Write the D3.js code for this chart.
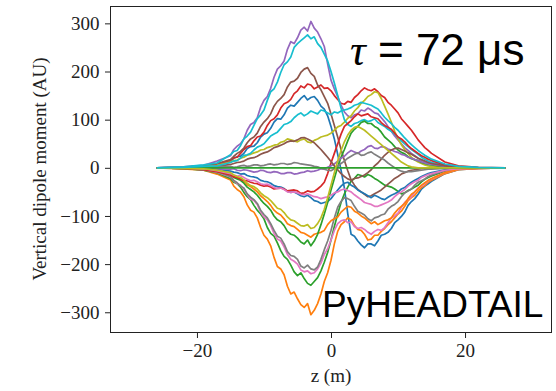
<!DOCTYPE html>
<html>
<head>
<meta charset="utf-8">
<script src="https://cdn.jsdelivr.net/npm/d3@7"></script>
<style>
  body { margin: 0; background: #fff; }
  svg { display: block; }
  .tick text { font-family: "Liberation Serif", "DejaVu Serif", serif; font-size: 19px; fill: #222; }
  .tick line { stroke: #222; }
</style>
</head>
<body>
<svg id="chart" width="556" height="391"></svg>
<script>
const zGrid = [-26, -22, -19, -17,
  -15, -14.5, -14, -13.5, -13, -12.5, -12, -11.5, -11, -10.5,
  -10, -9.5, -9, -8.5, -8, -7.5, -7, -6.5, -6, -5.5,
  -5, -4.5, -4, -3.5, -3, -2.5, -2, -1.5, -1, -0.5,
  0, 0.5, 1, 1.5, 2, 2.5, 3, 3.5, 4, 4.5,
  5, 5.5, 6, 6.5, 7, 7.5, 8, 8.5, 9, 9.5,
  10, 10.5, 11, 11.5, 12, 12.5, 13, 13.5, 14, 14.5,
  15, 17, 19, 22, 26];

// one snapshot per array (AU)
const blueA = [0, 1, 3, 7,
  13, 20, 23, 24, 30, 40, 44, 45, 52, 64,
  70, 73, 82, 95, 102, 101, 110, 124, 130, 128,
  136, 144, 150, 141, 146, 148, 140, 128, 122, 108,
  86, 60, 28, -5, -42, -95, -138, -142, -152, -160,
  -166, -158, -158, -162, -152, -140, -138, -134, -126, -114,
  -108, -101, -92, -78, -70, -64, -55, -44, -38, -33,
  -28, -12, -4, -1, 0];
const orangeA = [0, -2, -5, -13,
  -25, -38, -45, -50, -60, -77, -88, -92, -104, -124,
  -140, -148, -162, -186, -205, -210, -222, -246, -262, -258,
  -272, -284, -290, -282, -305, -296, -282, -262, -236, -218,
  -192, -158, -132, -118, -112, -104, -108, -120, -128, -130,
  -138, -150, -148, -140, -140, -132, -126, -118, -112, -104,
  -96, -90, -80, -68, -62, -57, -48, -41, -37, -30,
  -26, -12, -4, -1, 0];
const greenC = [0, -1, -5, -10,
  -22, -30, -33, -40, -51, -60, -66, -78, -88, -96,
  -106, -124, -136, -142, -156, -172, -184, -190, -202, -216,
  -224, -218, -230, -240, -244, -236, -228, -214, -196, -176,
  -150, -122, -96, -72, -54, -40, -28, -22, -14, -16,
  -19, -14, -17, -22, -26, -31, -36, -38, -40, -44,
  -49, -54, -52, -47, -44, -40, -36, -29, -24, -20,
  -17, -7, -2, 0, 0];
const redA = [0, 1, 4, 6,
  16, 21, 22, 30, 38, 44, 46, 56, 64, 66,
  74, 88, 98, 102, 110, 124, 133, 136, 142, 154,
  160, 170, 166, 174, 172, 164, 168, 172, 165, 166,
  160, 150, 142, 134, 132, 138, 136, 146, 152, 160,
  166, 162, 160, 164, 158, 150, 146, 136, 130, 122,
  114, 102, 94, 86, 78, 68, 58, 50, 42, 36,
  30, 12, 4, 1, 0];
const purpleA = [0, 2, 5, 14,
  25, 38, 45, 50, 60, 78, 90, 94, 104, 126,
  140, 148, 165, 188, 205, 212, 222, 246, 262, 258,
  270, 286, 292, 284, 304, 290, 282, 268, 252, 216,
  182, 164, 148, 130, 116, 108, 104, 110, 112, 120,
  118, 124, 120, 114, 112, 104, 96, 86, 76, 66,
  58, 50, 42, 36, 30, 25, 20, 15, 12, 9,
  7, 3, 1, 0, 0];
const brownA = [0, 1, 4, 9,
  17, 24, 30, 34, 41, 52, 60, 64, 72, 86,
  95, 102, 112, 128, 138, 144, 152, 168, 178, 180,
  186, 198, 205, 208, 196, 190, 172, 162, 148, 134,
  112, 88, 64, 38, 15, -6, -25, -36, -45, -50,
  -55, -60, -58, -54, -50, -46, -40, -34, -28, -22,
  -18, -13, -10, -7, -5, -4, -3, -2, -1, -1,
  0, 0, 0, 0, 0];
const pinkA = [0, -1, -4, -9,
  -19, -27, -33, -36, -44, -56, -65, -68, -76, -92,
  -102, -108, -120, -136, -148, -152, -164, -180, -190, -194,
  -200, -212, -216, -214, -220, -218, -210, -198, -180, -168,
  -150, -130, -116, -110, -108, -114, -112, -122, -126, -124,
  -128, -134, -138, -132, -128, -130, -124, -114, -104, -100,
  -94, -82, -72, -66, -60, -50, -42, -38, -33, -27,
  -23, -10, -3, -1, 0];
const grayA = [0, -1, -4, -8,
  -18, -26, -31, -38, -42, -54, -61, -66, -74, -88,
  -97, -104, -116, -130, -142, -146, -158, -174, -182, -184,
  -190, -204, -208, -202, -210, -212, -206, -190, -170, -152,
  -130, -104, -82, -70, -62, -64, -68, -80, -90, -94,
  -98, -106, -110, -104, -102, -98, -96, -86, -80, -76,
  -70, -60, -52, -48, -44, -36, -30, -27, -23, -18,
  -15, -6, -2, 0, 0];
const oliveA = [0, 0, 2, 5,
  12, 15, 16, 20, 22, 26, 28, 31, 33, 37,
  38, 42, 44, 47, 48, 53, 55, 60, 58, 56,
  54, 58, 60, 54, 52, 57, 60, 64, 66, 68,
  72, 78, 85, 88, 95, 103, 108, 118, 125, 134,
  140, 148, 152, 158, 156, 144, 128, 112, 95, 76,
  60, 48, 38, 30, 22, 16, 12, 9, 6, 4,
  3, 1, 0, 0, 0];
const cyanA = [0, 2, 6, 10,
  27, 34, 36, 46, 60, 66, 74, 88, 102, 110,
  120, 140, 158, 164, 178, 198, 214, 220, 230, 250,
  258, 264, 270, 276, 268, 272, 258, 250, 236, 222,
  200, 176, 150, 124, 100, 90, 86, 92, 94, 98,
  100, 96, 98, 102, 94, 90, 86, 80, 76, 70,
  64, 56, 50, 44, 38, 33, 28, 22, 18, 14,
  11, 5, 2, 0, 0];
const blueB = [0, 0, -1, -3,
  -7, -9, -10, -13, -12, -16, -18, -19, -21, -26,
  -28, -29, -32, -37, -39, -40, -43, -49, -51, -50,
  -54, -58, -60, -57, -62, -68, -70, -74, -72, -70,
  -64, -55, -46, -38, -32, -30, -36, -40, -46, -50,
  -54, -58, -62, -57, -60, -64, -66, -61, -57, -54,
  -50, -44, -41, -35, -30, -26, -22, -18, -15, -12,
  -10, -4, -1, 0, 0];
const orangeB = [0, -1, -3, -6,
  -13, -18, -20, -23, -28, -35, -39, -44, -50, -58,
  -64, -70, -78, -88, -94, -98, -106, -116, -120, -122,
  -128, -134, -136, -140, -144, -138, -136, -134, -130, -118,
  -110, -106, -102, -92, -86, -80, -82, -90, -94, -100,
  -104, -110, -116, -112, -118, -114, -110, -108, -104, -94,
  -86, -80, -74, -64, -55, -50, -43, -36, -31, -26,
  -22, -10, -3, -1, 0];
const greenB = [0, -1, -3, -7,
  -14, -20, -23, -26, -32, -40, -45, -50, -57, -66,
  -74, -80, -88, -100, -108, -112, -120, -132, -138, -140,
  -146, -154, -158, -150, -162, -152, -138, -118, -96, -72,
  -46, -22, 2, 22, 38, 56, 72, 80, 86, 94,
  97, 92, 92, 86, 82, 74, 64, 58, 52, 44,
  37, 32, 29, 23, 19, 17, 15, 11, 9, 7,
  6, 2, 1, 0, 0];
const redB = [0, -1, -4, -8,
  -15, -19, -20, -24, -26, -27, -30, -32, -33, -36,
  -38, -37, -40, -44, -43, -42, -44, -48, -47, -46,
  -48, -53, -52, -48, -50, -49, -44, -38, -30, -12,
  10, 30, 50, 70, 86, 92, 98, 106, 112, 108,
  110, 112, 106, 104, 102, 94, 88, 84, 80, 72,
  64, 60, 54, 46, 40, 35, 30, 25, 22, 18,
  15, 6, 2, 0, 0];
const purpleB = [0, 0, -1, -2,
  -3, -2, -5, -6, -4, -5, -7, -9, -8, -5,
  -6, -9, -10, -8, -9, -12, -12, -10, -10, -13,
  -12, -10, -9, -6, -8, -7, -5, -2, -2, 1,
  4, 8, 14, 20, 24, 31, 36, 33, 30, 35,
  38, 44, 46, 41, 40, 44, 43, 39, 37, 34,
  32, 28, 26, 22, 20, 17, 15, 12, 10, 8,
  7, 3, 1, 0, 0];
const brownB = [0, 0, 1, 3,
  7, 9, 11, 12, 14, 18, 20, 21, 24, 28,
  31, 33, 37, 42, 44, 47, 50, 54, 56, 55,
  58, 62, 63, 60, 56, 52, 45, 38, 30, 22,
  13, 4, -4, -12, -18, -23, -26, -22, -21, -18,
  -15, -10, -4, 4, 10, 18, 26, 32, 37, 40,
  41, 38, 35, 31, 28, 24, 20, 17, 14, 11,
  9, 4, 1, 0, 0];
const pinkB = [0, 0, -2, -6,
  -12, -15, -17, -16, -20, -24, -27, -26, -29, -33,
  -35, -34, -37, -41, -43, -42, -45, -50, -51, -50,
  -52, -55, -56, -54, -57, -60, -61, -64, -62, -60,
  -57, -52, -50, -46, -44, -47, -50, -56, -61, -66,
  -72, -74, -76, -80, -80, -77, -74, -71, -67, -60,
  -54, -50, -45, -38, -33, -29, -26, -20, -17, -14,
  -12, -5, -2, 0, 0];
const grayB = [0, 0, 1, 2,
  3, 1, 2, 4, 5, 3, 4, 6, 6, 4,
  5, 7, 8, 6, 7, 9, 9, 7, 8, 11,
  10, 8, 7, 6, 5, 3, 2, -1, -3, -5,
  -6, -2, 4, 9, 14, 20, 24, 28, 31, 26,
  27, 31, 33, 28, 24, 20, 16, 10, 5, 0,
  -4, -7, -9, -8, -8, -7, -6, -5, -4, -3,
  -3, -1, 0, 0, 0];
const zeroLine = [0, 0, 0, 0,
  0, 0, 0, 0, 0, 0, 0, 0, 0, 0,
  0, 0, 0, 0, 0, 0, 0, 0, 0, 0,
  0, 0, 0, 0, 0, 0, 0, 0, 0, 0,
  0, 0, 0, 0, 0, 0, 0, 0, 0, 0,
  0, 0, 0, 0, 0, 0, 0, 0, 0, 0,
  0, 0, 0, 0, 0, 0, 0, 0, 0, 0,
  0, 0, 0, 0, 0];
const oliveB = [0, -1, -2, -5,
  -10, -15, -18, -20, -25, -32, -37, -39, -44, -52,
  -58, -62, -68, -76, -84, -86, -93, -102, -108, -110,
  -115, -120, -121, -118, -126, -124, -116, -104, -86, -62,
  -36, -10, 14, 36, 54, 68, 78, 84, 86, 82,
  78, 72, 66, 60, 54, 48, 42, 36, 30, 24,
  18, 12, 8, 4, 2, 1, 0, 0, 0, 0,
  0, 0, 0, 0, 0];
const cyanB = [0, 1, 3, 4,
  11, 14, 15, 20, 26, 27, 30, 37, 43, 46,
  50, 58, 66, 70, 74, 82, 90, 92, 96, 104,
  110, 114, 108, 112, 118, 115, 112, 120, 118, 114,
  110, 116, 114, 118, 120, 122, 125, 130, 132, 136,
  134, 132, 130, 126, 122, 114, 105, 98, 92, 84,
  78, 70, 62, 55, 48, 42, 36, 31, 26, 22,
  18, 8, 3, 1, 0];

const xTicks = [-20, 0, 20];
const yTicks = [-300, -200, -100, 0, 100, 200, 300];

// matplotlib tab10
const tab = {
  blue: "#1f77b4", orange: "#ff7f0e", green: "#2ca02c", red: "#d62728", purple: "#9467bd",
  brown: "#8c564b", pink: "#e377c2", gray: "#7f7f7f", olive: "#bcbd22", cyan: "#17becf"
};

const lines = [
  [blueA, tab.blue], [orangeA, tab.orange], [greenC, tab.green], [redA, tab.red],
  [purpleA, tab.purple], [brownA, tab.brown], [pinkA, tab.pink], [grayA, tab.gray],
  [oliveA, tab.olive], [cyanA, tab.cyan], [blueB, tab.blue], [orangeB, tab.orange],
  [greenB, tab.green], [redB, tab.red], [purpleB, tab.purple], [brownB, tab.brown],
  [pinkB, tab.pink], [grayB, tab.gray], [zeroLine, tab.green], [oliveB, tab.olive],
  [cyanB, tab.cyan]
];

const svg = d3.select("#chart");
const plotL = 110.5, plotR = 551.5, plotT = 6.5, plotB = 332.5;

const x = d3.scaleLinear().domain([-32.9, 32.9]).range([plotL, plotR]);
const y = d3.scaleLinear().domain([-342, 335]).range([plotB, plotT]);

const minus = d => (d < 0 ? "\u2212" + Math.abs(d) : "" + d);

svg.append("defs").append("clipPath").attr("id", "plot")
  .append("rect").attr("x", plotL).attr("y", plotT)
  .attr("width", plotR - plotL).attr("height", plotB - plotT);

const line = d3.line()
  .defined((d, i) => i < zGrid.length)
  .x((d, i) => x(zGrid[i]))
  .y(d => y(d));

svg.append("g")
  .attr("clip-path", "url(#plot)")
  .selectAll("path")
  .data(lines)
  .enter()
  .append("path")
  .attr("d", d => line(d[0]))
  .attr("fill", "none")
  .attr("stroke", d => d[1])
  .attr("stroke-width", 1.7)
  .attr("stroke-linejoin", "round");

// axes
svg.append("g")
  .attr("transform", `translate(0,${plotB})`)
  .call(d3.axisBottom(x).tickValues(xTicks).tickSize(5.5).tickPadding(5.5).tickFormat(minus))
  .call(g => g.select(".domain").remove());

svg.append("g")
  .attr("transform", `translate(${plotL},0)`)
  .call(d3.axisLeft(y).tickValues(yTicks).tickSize(5.5).tickPadding(5.5).tickFormat(minus))
  .call(g => g.select(".domain").remove());

svg.append("rect")
  .attr("x", plotL).attr("y", plotT)
  .attr("width", plotR - plotL).attr("height", plotB - plotT)
  .attr("fill", "none").attr("stroke", "#222").attr("stroke-width", 1);

// axis labels
svg.append("text")
  .attr("transform", "translate(46,169) rotate(-90)")
  .attr("text-anchor", "middle")
  .style("font-family", "'Liberation Serif', 'DejaVu Serif', serif")
  .style("font-size", "19px")
  .style("fill", "#222")
  .text("Vertical dipole moment (AU)");

svg.append("text")
  .attr("x", 331).attr("y", 382)
  .attr("text-anchor", "middle")
  .style("font-family", "'Liberation Serif', 'DejaVu Serif', serif")
  .style("font-size", "19px")
  .style("fill", "#222")
  .text("z (m)");

// annotations
const tau = svg.append("text")
  .attr("x", 350).attr("y", 65)
  .style("font-family", "'Liberation Sans', Arial, sans-serif")
  .style("font-size", "44px")
  .style("fill", "#000");
tau.append("tspan")
  .style("font-family", "'Liberation Serif', 'DejaVu Serif', serif")
  .style("font-style", "italic")
  .text("\u03c4");
tau.append("tspan").text(" = 72 \u03bcs");

svg.append("text")
  .attr("x", 322).attr("y", 317)
  .style("font-family", "'Liberation Sans', Arial, sans-serif")
  .style("font-size", "37px")
  .style("fill", "#000")
  .text("PyHEADTAIL");
</script>
</body>
</html>
